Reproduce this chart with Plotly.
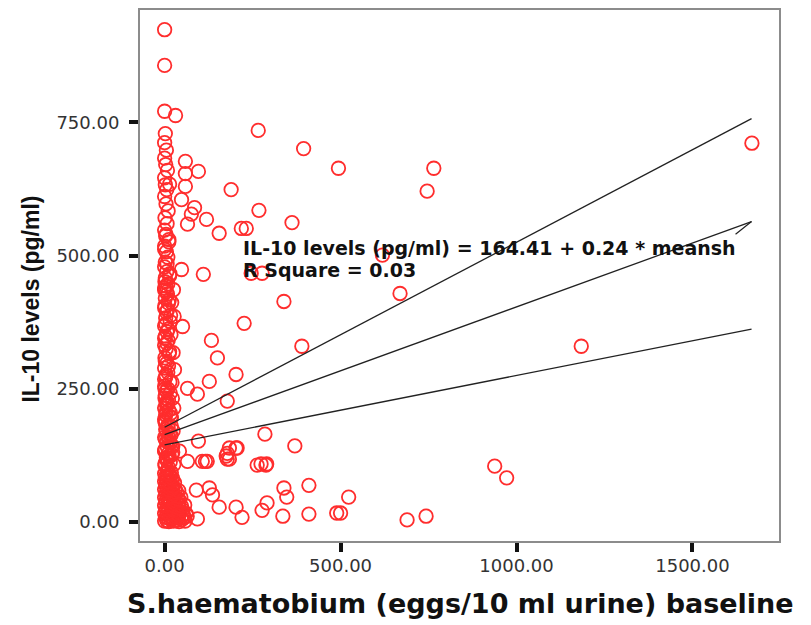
import plotly.graph_objects as go

# S. haematobium egg count (eggs/10 ml urine) vs IL-10 (pg/ml)
col_x = [0, 0, 0, 2, 0, 5, 0, 3, 8, 0, 2, 6, 0, 4, 10, 1, 7, 0, 3, 12,
         0, 5, 9, 2, 0, 6, 14, 1, 4, 0, 8, 2, 11, 0, 5, 3, 16, 0, 7, 2,
         10, 0, 4, 13, 1, 6, 0, 9, 3, 15, 0, 5, 2, 11, 7, 0, 4, 18, 1, 9,
         3, 14, 0, 6, 20, 2, 10, 5, 16, 1, 8,
         4, 12, 0, 7, 15, 2, 9, 0, 5, 13, 1, 8, 17, 3, 10, 0, 6, 14, 2, 11,
         4, 0, 9, 16, 1, 7, 12, 3, 0, 10, 5, 18, 2, 8, 0, 13, 6, 1, 11,
         22, 6, 19, 2, 24, 10, 15, 0, 21, 8, 26, 4, 17, 12, 23, 1,
         25, 20, 27, 18, 24, 28, 21, 26, 19, 23]
col_y = [924, 857, 771, 729, 712, 698, 683, 671, 660, 646, 633, 624, 611, 597, 584, 571, 560, 548, 537, 526,
         518, 507, 497, 488, 479, 470, 462, 451, 443, 436, 428, 420, 411, 402, 394, 383, 376, 368, 357, 349,
         341, 332, 325, 316, 308, 298, 289, 281, 272, 263, 255, 246, 238, 229, 221, 214, 206, 197, 189, 182,
         174, 167, 159, 151, 144, 137, 128, 121, 113, 106, 98,
         540, 530, 512, 485, 466, 458, 447, 439, 432, 417, 406, 398, 388, 372, 362, 345, 336, 320, 302, 293,
         276, 268, 250, 242, 233, 225, 210, 201, 193, 178, 170, 163, 155, 140, 133, 124, 116, 110, 102,
         232, 218, 196, 186, 171, 160, 148, 135, 126, 118, 108, 224, 204, 152, 142, 250,
         436, 412, 386, 352, 318, 286, 262, 214, 180, 131]

blob_x = [0, 6, 12, 18, 25, 33, 41, 50, 58,
          3, 10, 16, 22, 30, 38, 47, 56, 64,
          0, 7, 14, 21, 28, 36, 44, 53, 61,
          4, 11, 18, 26, 34, 42, 51,
          0, 8, 15, 22, 30, 39, 48, 57,
          3, 10, 17, 25, 33, 42,
          0, 7, 14, 21, 29, 37, 46,
          4, 11, 18, 26, 34,
          0, 7, 14, 22, 30, 40,
          3, 10, 17, 25,
          0, 6, 13, 20, 28,
          2, 9, 16, 23,
          0, 6, 13, 19]
blob_y = [2, 3, 1, 4, 2, 3, 1, 5, 2,
          9, 8, 10, 9, 7, 10, 8, 9, 11,
          16, 17, 15, 16, 18, 15, 17, 14, 16,
          24, 23, 25, 22, 24, 26, 23,
          31, 30, 32, 31, 29, 33, 30, 32,
          39, 38, 40, 37, 39, 41,
          46, 47, 45, 48, 46, 44, 47,
          54, 53, 55, 52, 56,
          61, 62, 60, 63, 61, 59,
          69, 68, 70, 67,
          76, 77, 75, 78, 74,
          84, 83, 85, 82,
          91, 92, 90, 93]

out_x = [266, 395, 494, 765, 746, 189, 268, 76, 119, 65, 155, 218, 232, 362, 48, 110,
         246, 277, 619, 669, 339, 226, 51, 133, 150, 390, 1184, 1669, 203, 127, 65, 93,
         178, 285, 370, 206, 178, 178, 116, 274, 290, 938, 972, 96, 90, 127, 136, 155,
         203, 220, 277, 291, 339, 347, 336, 410, 410, 93, 489, 500, 523, 689, 743, 59,
         59, 96, 14, 59, 31, 48, 85, 42, 65, 107, 121, 184, 175, 203, 184, 263, 288]
out_y = [735, 701, 664, 664, 621, 624, 585, 578, 568, 559, 542, 551, 551, 562, 474, 465,
         467, 467, 501, 429, 414, 373, 367, 341, 308, 330, 330, 711, 277, 264, 251, 240,
         227, 165, 143, 139, 129, 118, 114, 109, 109, 105, 83, 152, 60, 64, 51, 28,
         28, 9, 22, 36, 64, 47, 11, 69, 15, 6, 17, 17, 47, 4, 11, 677,
         654, 658, 634, 630, 763, 605, 590, 133, 114, 114, 114, 139, 124, 139, 118, 107, 107]

# regression line and 95% band
fit_x = [0, 1668]
fit_mid = [164, 564]
fit_upper = [178, 757]
fit_lower = [145, 362]

x_ticks = [0, 500, 1000, 1500]
x_ticktext = ["0.00", "500.00", "1000.00", "1500.00"]
y_ticks = [0, 250, 500, 750]
y_ticktext = ["0.00", "250.00", "500.00", "750.00"]

red = "rgb(255,45,45)"

fig = go.Figure()
fig.add_trace(go.Scatter(
    x=col_x + blob_x + out_x,
    y=col_y + blob_y + out_y,
    mode="markers",
    marker=dict(symbol="circle-open", size=13.5, color=red, line=dict(width=1.8, color=red)),
))
for band in (fit_upper, fit_mid, fit_lower):
    fig.add_trace(go.Scatter(
        x=fit_x, y=band, mode="lines",
        line=dict(color="#222222", width=1.3),
    ))

fig.add_annotation(
    x=fit_x[1], y=fit_mid[1], xref="x", yref="y",
    text=" ", showarrow=True, arrowhead=0, arrowwidth=1.2, arrowcolor="#222222",
    ax=-19, ay=15,
)
fig.add_annotation(
    x=217, y=515, xref="x", yref="y", xanchor="left", yanchor="middle",
    text="IL-10 levels (pg/ml) = 164.41 + 0.24 * meansh", showarrow=False,
    font=dict(family="DejaVu Sans", size=19, color="#111111", weight="bold"),
)
fig.add_annotation(
    x=217, y=474, xref="x", yref="y", xanchor="left", yanchor="middle",
    text="R Square = 0.03", showarrow=False,
    font=dict(family="DejaVu Sans", size=19, color="#111111", weight="bold"),
)
fig.add_annotation(
    x=0.5008, y=-0.118, xref="paper", yref="paper", xanchor="center", yanchor="middle",
    text="S.haematobium (eggs/10 ml urine) baseline", showarrow=False,
    font=dict(family="DejaVu Sans", size=27, color="#111111", weight="bold"),
)
fig.add_annotation(
    x=-0.171, y=0.456, xref="paper", yref="paper", xanchor="center", yanchor="middle",
    text="IL-10 levels (pg/ml)", showarrow=False, textangle=-90,
    font=dict(family="Liberation Sans", size=23, color="#111111", weight="bold"),
)

fig.update_xaxes(
    range=[-70, 1746], tickvals=x_ticks, ticktext=x_ticktext,
    showgrid=False, zeroline=False,
    showline=True, mirror=True, linecolor="#8c8c8c", linewidth=2,
    ticks="outside", ticklen=9, tickwidth=4, tickcolor="#111111",
    ticklabelstandoff=-2,
    tickfont=dict(family="DejaVu Sans", size=18, color="#333333"),
)
fig.update_yaxes(
    range=[-35.5, 961], tickvals=y_ticks, ticktext=y_ticktext,
    showgrid=False, zeroline=False,
    showline=True, mirror=True, linecolor="#8c8c8c", linewidth=2,
    ticks="outside", ticklen=9, tickwidth=4, tickcolor="#111111",
    ticklabelstandoff=6,
    tickfont=dict(family="DejaVu Sans", size=18, color="#333333"),
)
# page body has an 8px margin, so the figure is a bit smaller than the window
fig.update_layout(
    width=803, height=617,
    margin=dict(l=132, r=32, t=0, b=84),
    plot_bgcolor="white", paper_bgcolor="white",
    showlegend=False,
)

fig.write_html("out.html")
